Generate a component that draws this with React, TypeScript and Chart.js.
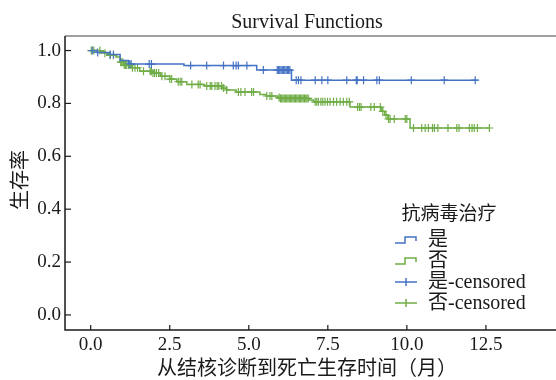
import React, { useEffect, useRef } from 'react';
import { Chart, registerables } from 'chart.js';
Chart.register(...registerables);

// ---- data ----
const blueStepTimes = [0, 0.2, 0.62, 0.93, 1.19, 2.95, 5.25, 6.35, 12.24];
const blueStepSurv = [1.0, 0.993, 0.985, 0.962, 0.949, 0.943, 0.926, 0.888, 0.888];
const blueCensorTimes = [0.05, 0.22, 0.62, 0.72, 1.22, 1.28, 1.85, 1.92, 3.16, 3.67, 4.2, 4.51, 4.6, 4.67, 4.94, 5.46,
  5.9, 5.94, 5.98, 6.02, 6.06, 6.1, 6.14, 6.18, 6.22, 6.26, 6.3, 6.5, 6.57, 6.65, 7.1, 7.31, 7.5, 8.1, 8.4, 8.43,
  8.63, 9.05, 9.13, 10.14, 11.18, 12.16];

const greenStepTimes = [0, 0.3, 0.45, 0.6, 0.8, 0.93, 1.05, 1.3, 1.55, 1.95, 2.2, 2.5, 2.72, 3.04, 3.6, 4.15, 4.3, 4.6,
  5.35, 5.55, 5.92, 6.0, 6.9, 7.05, 8.2, 9.2, 9.3, 9.4, 10.1, 12.61];
const greenStepSurv = [1.0, 0.995, 0.99, 0.982, 0.976, 0.956, 0.945, 0.935, 0.922, 0.915, 0.903, 0.892, 0.882, 0.872,
  0.866, 0.858, 0.851, 0.843, 0.834, 0.828, 0.822, 0.819, 0.813, 0.806, 0.786, 0.77, 0.756, 0.741, 0.707, 0.707];
const greenCensorTimes = [0.02, 0.1, 0.29, 0.45, 0.61, 0.72, 0.95, 0.98, 1.02, 1.06, 1.1, 1.14, 1.2, 1.25, 1.32, 1.4,
  1.48, 1.67, 1.88, 1.92, 1.97, 2.02, 2.08, 2.15, 2.25, 2.35, 2.5, 2.56, 2.77, 2.83, 2.88, 3.2, 3.4, 3.46, 3.67, 3.78,
  3.83, 3.93, 4.0, 4.05, 4.14, 4.2, 4.3, 4.67, 4.75, 4.88, 5.09, 5.15, 5.57, 5.67, 5.73, 5.96, 6.0, 6.04, 6.08, 6.12,
  6.16, 6.2, 6.24, 6.28, 6.32, 6.36, 6.4, 6.44, 6.48, 6.52, 6.56, 6.6, 6.64, 6.68, 6.72, 6.76, 6.8, 6.84, 6.88, 7.1,
  7.15, 7.2, 7.28, 7.34, 7.41, 7.49, 7.57, 7.68, 7.78, 7.89, 7.99, 8.1, 8.18, 8.44, 8.5, 8.55, 8.86, 8.97, 9.16, 9.24,
  9.34, 9.42, 9.47, 9.6, 9.95, 10.0, 10.21, 10.47, 10.58, 10.68, 10.81, 10.87, 10.98, 11.3, 11.58, 11.65, 11.98, 12.06,
  12.13, 12.23, 12.61];

const xTicks = [0, 2.5, 5, 7.5, 10, 12.5];
const yTicks = [0, 0.2, 0.4, 0.6, 0.8, 1.0];

const seriesNames = ['是', '否', '是-censored', '否-censored'];
const legendTitle = '抗病毒治疗';
const chartTitle = 'Survival Functions';
const xTitle = '从结核诊断到死亡生存时间（月）';
const yTitle = '生存率';

const BLUE = '#4472C4';
const GREEN = '#70AD47';
const FONT = "'Liberation Serif', 'Noto Sans CJK SC', serif";

function survAt(times: number[], surv: number[], t: number) {
  let v = surv[0];
  for (let i = 0; i < times.length; i++) if (times[i] <= t) v = surv[i];
  return v;
}

const decorPlugin = {
  id: 'decor',
  afterDraw(chart: any) {
    const { ctx, chartArea, scales } = chart;
    const { left, right, top, bottom } = chartArea;
    ctx.save();
    // spines
    ctx.lineWidth = 1.5;
    ctx.strokeStyle = '#7f7f7f';
    ctx.beginPath();
    ctx.moveTo(left, top);
    ctx.lineTo(right + 20, top);
    ctx.stroke();
    ctx.strokeStyle = '#1a1a1a';
    ctx.beginPath();
    ctx.moveTo(left, top);
    ctx.lineTo(left, bottom);
    ctx.lineTo(right + 20, bottom);
    ctx.stroke();
    // inward ticks
    ctx.lineWidth = 1.2;
    xTicks.forEach((v) => {
      const px = scales.x.getPixelForValue(v);
      ctx.beginPath();
      ctx.moveTo(px, bottom);
      ctx.lineTo(px, bottom - 5);
      ctx.stroke();
    });
    yTicks.forEach((v) => {
      const py = scales.y.getPixelForValue(v);
      ctx.beginPath();
      ctx.moveTo(left, py);
      ctx.lineTo(left + 6, py);
      ctx.stroke();
    });
    // titles
    ctx.fillStyle = '#1a1a1a';
    ctx.font = `20px ${FONT}`;
    ctx.textAlign = 'center';
    ctx.textBaseline = 'alphabetic';
    ctx.fillText(chartTitle, 307, 28);
    ctx.textBaseline = 'middle';
    ctx.fillText(xTitle, 307, 370);
    ctx.save();
    ctx.translate(22, 180);
    ctx.rotate(-Math.PI / 2);
    ctx.fillText(yTitle, 0, 0);
    ctx.restore();
    // legend
    ctx.font = `19px ${FONT}`;
    ctx.fillText(legendTitle, 449, 215);
    ctx.font = `20px ${FONT}`;
    const rows = [240, 261, 282, 303];
    const colors = [BLUE, GREEN, BLUE, GREEN];
    ctx.textAlign = 'left';
    rows.forEach((y, i) => {
      ctx.strokeStyle = colors[i];
      ctx.lineWidth = 1.5;
      ctx.beginPath();
      if (i < 2) {
        ctx.moveTo(395, y + 3);
        ctx.lineTo(405, y + 3);
        ctx.lineTo(405, y - 3);
        ctx.lineTo(416, y - 3);
        ctx.lineTo(416, y + 1);
      } else {
        ctx.moveTo(395, y);
        ctx.lineTo(417, y);
        ctx.moveTo(406, y - 4);
        ctx.lineTo(406, y + 4);
      }
      ctx.stroke();
      ctx.fillStyle = '#1a1a1a';
      ctx.fillText(seriesNames[i], 428, y + 1);
    });
    ctx.restore();
  },
};

export default function App() {
  const ref = useRef<HTMLCanvasElement>(null);
  useEffect(() => {
    if (!ref.current) return;
    const stepData = (ts: number[], ss: number[]) => ts.map((t, i) => ({ x: t, y: ss[i] }));
    const censData = (cs: number[], ts: number[], ss: number[]) => cs.map((t) => ({ x: t, y: survAt(ts, ss, t) }));
    const chart = new Chart(ref.current, {
      type: 'line',
      data: {
        datasets: [
          { label: seriesNames[0], data: stepData(blueStepTimes, blueStepSurv), borderColor: BLUE, borderWidth: 1.5, stepped: 'before', pointRadius: 0, fill: false },
          { label: seriesNames[1], data: stepData(greenStepTimes, greenStepSurv), borderColor: GREEN, borderWidth: 1.5, stepped: 'before', pointRadius: 0, fill: false },
          { label: seriesNames[2], data: censData(blueCensorTimes, blueStepTimes, blueStepSurv), showLine: false, pointStyle: 'cross', pointRadius: 4, pointBorderWidth: 1.2, borderColor: BLUE, pointBorderColor: BLUE },
          { label: seriesNames[3], data: censData(greenCensorTimes, greenStepTimes, greenStepSurv), showLine: false, pointStyle: 'cross', pointRadius: 4, pointBorderWidth: 1.2, borderColor: GREEN, pointBorderColor: GREEN },
        ] as any,
      },
      options: {
        animation: false,
        responsive: false,
        events: [],
        layout: { padding: { left: 0, top: 36, right: 12, bottom: 0 } },
        plugins: { legend: { display: false }, tooltip: { enabled: false }, title: { display: false } },
        scales: {
          x: {
            type: 'linear',
            min: -0.813,
            max: 14.78,
            grid: { display: false, drawTicks: false },
            border: { display: false },
            afterBuildTicks: (s: any) => { s.ticks = xTicks.map((v) => ({ value: v })); },
            afterFit: (s: any) => { s.height = 50; },
            ticks: { padding: 4, color: '#1a1a1a', font: { family: FONT, size: 19 }, maxRotation: 0, callback: (v: any) => Number(v).toFixed(1) },
          },
          y: {
            type: 'linear',
            min: -0.057,
            max: 1.055,
            grid: { display: false, drawTicks: false },
            border: { display: false },
            afterBuildTicks: (s: any) => { s.ticks = yTicks.map((v) => ({ value: v })); },
            afterFit: (s: any) => { s.width = 65; },
            ticks: { padding: 4, color: '#1a1a1a', font: { family: FONT, size: 19 }, callback: (v: any) => Number(v).toFixed(1) },
          },
        },
      } as any,
      plugins: [decorPlugin],
    });
    return () => chart.destroy();
  }, []);
  return (
    <div style={{ position: 'fixed', left: 0, top: 0, width: 570, height: 380, background: '#fff' }}>
      <canvas ref={ref} width={570} height={380} />
    </div>
  );
}
